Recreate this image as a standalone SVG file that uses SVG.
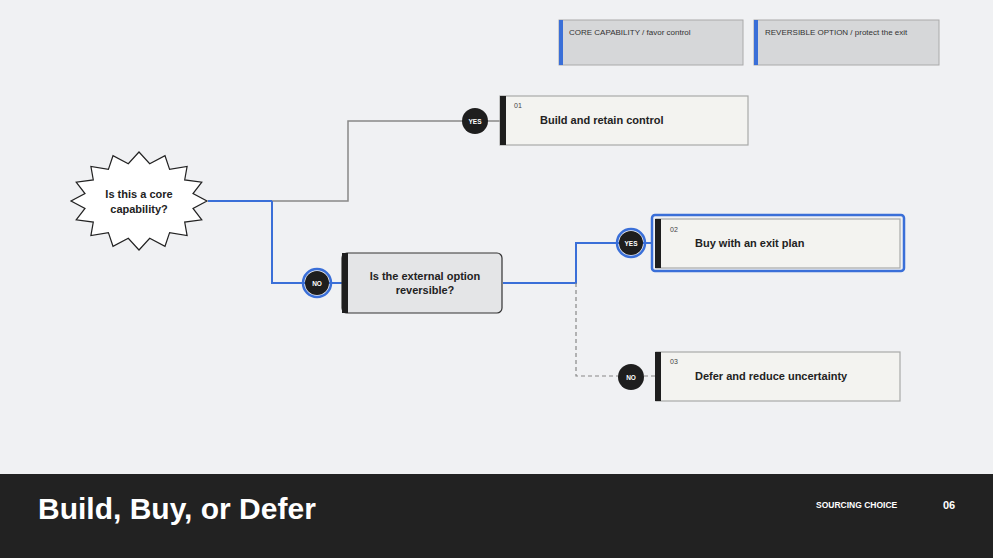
<svg xmlns="http://www.w3.org/2000/svg" width="993" height="558" viewBox="0 0 993 558">
<style>
text{font-family:"Liberation Sans",Arial,sans-serif;fill:#222}
.card{fill:#f3f3f0;stroke:#a9aaa9;stroke-width:1.2}
.bar{fill:#1e1e1e}
.t{font-size:11px;font-weight:bold}
.num{font-size:7px;fill:#444}
.badge{fill:#1e1e1e}
.bt{font-size:6.5px;font-weight:bold;fill:#fff;text-anchor:middle}
.ring{fill:none;stroke:#3a6fd8;stroke-width:2.5}
.leg{fill:#d6d7d9;stroke:#aaa;stroke-width:1}
.lt{font-size:8px;fill:#333}
</style>
<rect width="993" height="558" fill="#f0f1f3"/>
<g id="connectors" fill="none">
<path d="M208 201H272" stroke="#3a6fd8" stroke-width="2"/>
<path d="M272 201H348V121H500" stroke="#888" stroke-width="1.5"/>
<path d="M272 201V283H342" stroke="#3a6fd8" stroke-width="2"/>
<path d="M503 283H576V243H652" stroke="#3a6fd8" stroke-width="2"/>
<path d="M576 283V376H656" stroke="#888" stroke-width="1.2" stroke-dasharray="4 3"/>
</g>
<g id="legend1"><rect class="leg" x="559" y="20" width="184" height="45"/><rect x="559" y="20" width="4" height="45" fill="#3a6fd8"/><text class="lt" x="569" y="35">CORE CAPABILITY / favor control</text></g>
<g id="legend2"><rect class="leg" x="754" y="20" width="185" height="45"/><rect x="754" y="20" width="4" height="45" fill="#3a6fd8"/><text class="lt" x="765" y="35">REVERSIBLE OPTION / protect the exit</text></g>
<g id="start">
<polygon points="207,201 193,208.4 201.8,219.8 184.7,222.1 187.1,235.6 169.6,232.6 165,246.3 149.7,238.3 139,250 128.3,238.3 113,246.3 108.4,232.6 90.9,235.6 93.3,222.1 76.2,219.8 85,208.4 71,201 85,193.6 76.2,182.2 93.3,179.9 90.9,166.4 108.4,169.4 113,155.7 128.3,163.7 139,152 149.7,163.7 165,155.7 169.6,169.4 187.1,166.4 184.7,179.9 201.8,182.2 193,193.6" fill="#fff" stroke="#222" stroke-width="1.2"/>
<text class="t" x="139" y="198" text-anchor="middle" font-size="12">Is this a core</text>
<text class="t" x="139" y="213" text-anchor="middle" font-size="12">capability?</text>
</g>
<g id="decision">
<rect x="342" y="253" width="160" height="60" rx="5" fill="#e4e5e7" stroke="#333" stroke-width="1.2"/>
<rect class="bar" x="342" y="253" width="6" height="60"/>
<text class="t" x="425" y="280" text-anchor="middle">Is the external option</text>
<text class="t" x="425" y="294" text-anchor="middle">reversible?</text>
</g>
<g id="out1"><rect class="card" x="500" y="96" width="248" height="49"/><rect class="bar" x="500" y="96" width="6" height="49"/><text class="num" x="514" y="108">01</text><text class="t" x="540" y="124">Build and retain control</text></g>
<g id="out2"><rect x="652" y="215" width="252" height="56" rx="3" fill="none" stroke="#3a6fd8" stroke-width="2.5"/><rect class="card" x="656" y="219" width="244" height="49"/><rect class="bar" x="655" y="219" width="6" height="49"/><text class="num" x="670" y="232">02</text><text class="t" x="695" y="247">Buy with an exit plan</text></g>
<g id="out3"><rect class="card" x="656" y="352" width="244" height="49"/><rect class="bar" x="655" y="352" width="6" height="49"/><text class="num" x="670" y="364">03</text><text class="t" x="695" y="380">Defer and reduce uncertainty</text></g>
<g id="b1"><circle class="badge" cx="475" cy="121" r="13"/><text class="bt" x="475" y="123.5">YES</text></g>
<g id="b2"><circle class="ring" cx="317" cy="283" r="14"/><circle class="badge" cx="317" cy="283" r="12"/><text class="bt" x="317" y="285.5">NO</text></g>
<g id="b3"><circle class="ring" cx="631" cy="243" r="14"/><circle class="badge" cx="631" cy="243" r="12"/><text class="bt" x="631" y="245.5">YES</text></g>
<g id="b4"><circle class="badge" cx="631" cy="377" r="13"/><text class="bt" x="631" y="379.5">NO</text></g>
<g id="footer">
<rect x="0" y="474" width="993" height="84" fill="#222"/>
<text x="38" y="519" font-size="30" font-weight="bold" style="fill:#fff">Build, Buy, or Defer</text>
<text x="816" y="508" font-size="8.5" font-weight="bold" style="fill:#fff">SOURCING CHOICE</text>
<text x="943" y="509" font-size="11" font-weight="bold" style="fill:#fff">06</text>
</g>
</svg>
